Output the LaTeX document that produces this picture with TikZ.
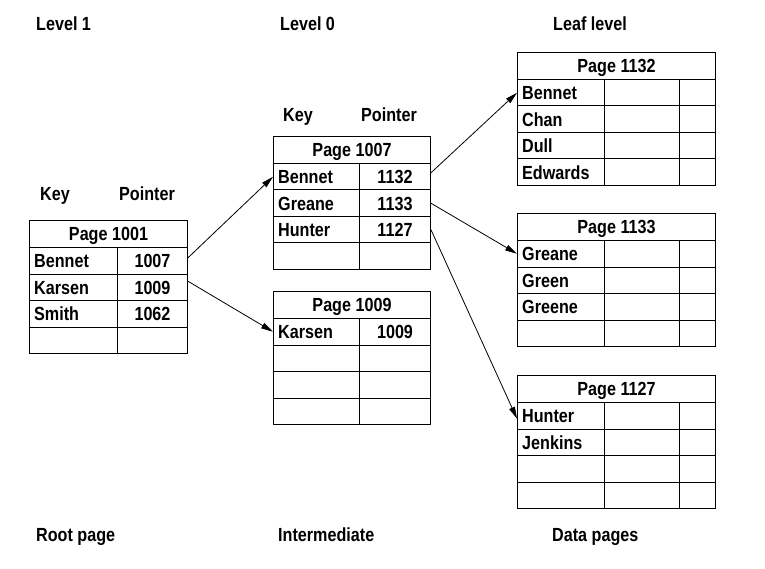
\documentclass[tikz,border=0pt]{standalone}
\usepackage{fontspec}
\setmainfont{Liberation Sans}[FakeStretch=0.85]
\usetikzlibrary{arrows.meta}
\begin{document}
\begin{tikzpicture}[x=1pt,y=-1pt,
  every node/.style={font=\fontsize{19}{21}\selectfont\bfseries, text height=13.6pt, text depth=0pt},
  cell/.style={draw, line width=1pt, inner sep=0pt, minimum height=26.5pt, anchor=north west},
  hd/.style={draw, line width=1pt, inner sep=0pt, minimum height=27pt, anchor=north west},
  keytxt/.style={anchor=west, inner sep=0pt, xshift=5pt},
  lbl/.style={anchor=west, inner sep=0pt},
  arr/.style={line width=0.8pt, -{Triangle[length=12pt,width=6pt]}}]
\useasboundingbox (0,0) rectangle (765,569);

% top and bottom labels
\node[lbl] (l1) at (36,24) {Level 1};
\node[lbl] (l0) at (280,24) {Level 0};
\node[lbl] (ll) at (553,24) {Leaf level};
\node[lbl] (k1) at (40,194) {Key};
\node[lbl] (pt1) at (119,194) {Pointer};
\node[lbl] (k0) at (283,115) {Key};
\node[lbl] (pt0) at (361,115) {Pointer};
\node[lbl] (rp) at (36,535) {Root page};
\node[lbl] (im) at (278,535) {Intermediate};
\node[lbl] (dp) at (552,535) {Data pages};

% root page 1001
\node[hd, minimum width=158pt] (p1001) at (29,220) {Page 1001};
\foreach \k/\p [count=\i] in {Bennet/1007,Karsen/1009,Smith/1062,{}/{}} {
  \node[cell, minimum width=88pt] (p1001k\i) at (29,{247+(\i-1)*26.5}) {};
  \node[cell, minimum width=70pt] (p1001p\i) at (117,{247+(\i-1)*26.5}) {\p};
  \node[keytxt] (p1001t\i) at (p1001k\i.west) {\k};
}

% intermediate page 1007
\node[hd, minimum width=157pt] (p1007) at (273,136) {Page 1007};
\foreach \k/\p [count=\i] in {Bennet/1132,Greane/1133,Hunter/1127,{}/{}} {
  \node[cell, minimum width=86pt] (p1007k\i) at (273,{163+(\i-1)*26.5}) {};
  \node[cell, minimum width=71pt] (p1007p\i) at (359,{163+(\i-1)*26.5}) {\p};
  \node[keytxt] (p1007t\i) at (p1007k\i.west) {\k};
}

% intermediate page 1009
\node[hd, minimum width=157pt] (p1009) at (273,291) {Page 1009};
\foreach \k/\p [count=\i] in {Karsen/1009,{}/{},{}/{},{}/{}} {
  \node[cell, minimum width=86pt] (p1009k\i) at (273,{318+(\i-1)*26.5}) {};
  \node[cell, minimum width=71pt] (p1009p\i) at (359,{318+(\i-1)*26.5}) {\p};
  \node[keytxt] (p1009t\i) at (p1009k\i.west) {\k};
}

% leaf pages
\node[hd, minimum width=198pt] (p1132) at (517,52) {Page 1132};
\foreach \k [count=\i] in {Bennet,Chan,Dull,Edwards} {
  \node[cell, minimum width=87pt] (p1132k\i) at (517,{79+(\i-1)*26.5}) {};
  \node[cell, minimum width=75pt] (p1132b\i) at (604,{79+(\i-1)*26.5}) {};
  \node[cell, minimum width=36pt] (p1132c\i) at (679,{79+(\i-1)*26.5}) {};
  \node[keytxt] (p1132t\i) at (p1132k\i.west) {\k};
}

\node[hd, minimum width=198pt] (p1133) at (517,213) {Page 1133};
\foreach \k [count=\i] in {Greane,Green,Greene,{}} {
  \node[cell, minimum width=87pt] (p1133k\i) at (517,{240+(\i-1)*26.5}) {};
  \node[cell, minimum width=75pt] (p1133b\i) at (604,{240+(\i-1)*26.5}) {};
  \node[cell, minimum width=36pt] (p1133c\i) at (679,{240+(\i-1)*26.5}) {};
  \node[keytxt] (p1133t\i) at (p1133k\i.west) {\k};
}

\node[hd, minimum width=198pt] (p1127) at (517,375) {Page 1127};
\foreach \k [count=\i] in {Hunter,Jenkins,{},{}} {
  \node[cell, minimum width=87pt] (p1127k\i) at (517,{402+(\i-1)*26.5}) {};
  \node[cell, minimum width=75pt] (p1127b\i) at (604,{402+(\i-1)*26.5}) {};
  \node[cell, minimum width=36pt] (p1127c\i) at (679,{402+(\i-1)*26.5}) {};
  \node[keytxt] (p1127t\i) at (p1127k\i.west) {\k};
}

% pointers
\draw[arr] ([yshift=3pt]p1001p1.east) -- (p1007k1.west);
\draw[arr] ([yshift=6pt]p1001p2.east) -- (p1009k1.west);
\draw[arr] ([yshift=4pt]p1007p1.east) -- (p1132k1.west);
\draw[arr] (p1007p2.east) -- (p1133k1.west);
\draw[arr] (p1007p3.east) -- ([yshift=-3pt]p1127k1.west);
\end{tikzpicture}
\end{document}
